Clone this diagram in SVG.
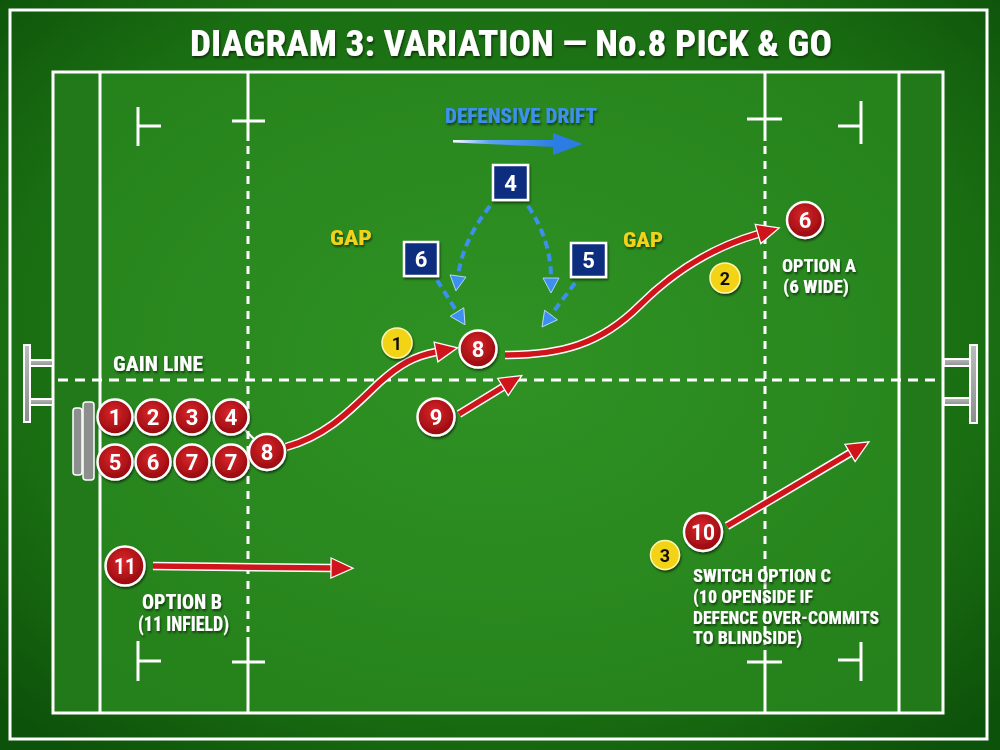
<svg xmlns="http://www.w3.org/2000/svg" width="1000" height="750" viewBox="0 0 1000 750">
<defs>
<radialGradient id="bg" cx="50%" cy="45%" r="70%">
<stop offset="0" stop-color="#21801a"/>
<stop offset="0.7" stop-color="#1a6e12"/>
<stop offset="1" stop-color="#0d520a"/>
</radialGradient>
<radialGradient id="fieldG" cx="50%" cy="45%" r="65%">
<stop offset="0" stop-color="#2f9224"/>
<stop offset="1" stop-color="#25811b"/>
</radialGradient>
<radialGradient id="redG" cx="45%" cy="38%" r="60%">
<stop offset="0" stop-color="#d9262b"/>
<stop offset="1" stop-color="#980a0f"/>
</radialGradient>
<linearGradient id="driftG" x1="0" y1="0" x2="1" y2="0">
<stop offset="0" stop-color="#ffffff"/>
<stop offset="0.35" stop-color="#5aa3f2"/>
<stop offset="1" stop-color="#2b7de4"/>
</linearGradient>
<linearGradient id="postG" x1="0" y1="0" x2="0" y2="1">
<stop offset="0" stop-color="#b9bdbb"/>
<stop offset="1" stop-color="#8a8e8c"/>
</linearGradient>
<filter id="sh" x="-20%" y="-20%" width="140%" height="150%">
<feDropShadow dx="1" dy="2" stdDeviation="1.3" flood-color="#000" flood-opacity="0.55"/>
</filter>
<marker id="redHead" markerUnits="userSpaceOnUse" viewBox="-2 -12 28 24" markerWidth="28" markerHeight="24" refX="0" refY="0" orient="auto">
<path d="M0,-10 L22,0 L0,10 Z" fill="#d0141b" stroke="#ffffff" stroke-width="1.3" stroke-linejoin="miter"/>
</marker>
<marker id="blueHead" markerUnits="userSpaceOnUse" viewBox="-2 -10 20 20" markerWidth="20" markerHeight="20" refX="0" refY="0" orient="auto">
<path d="M0,-8 L15,0 L0,8 Z" fill="#3d8ff0" stroke="#cfe3ff" stroke-width="0.8"/>
</marker>
<style>
.ln{stroke:#ffffff;stroke-width:3;fill:none}
.dash{stroke:#ffffff;stroke-width:3;fill:none;stroke-dasharray:8 7}
.gdash{stroke:#ffffff;stroke-width:3;fill:none;stroke-dasharray:10 7}
.lbl{font-family:"Roboto Condensed","Liberation Sans Narrow","DejaVu Sans Condensed","Roboto","Liberation Sans",sans-serif;font-weight:800;fill:#ffffff}
.num{font-family:"Roboto","Liberation Sans","DejaVu Sans",sans-serif;font-weight:700;fill:#ffffff;font-size:22px;text-anchor:middle}
.ynum{font-family:"Roboto","Liberation Sans","DejaVu Sans",sans-serif;font-weight:700;fill:#111111;font-size:18px;text-anchor:middle}
.red{fill:url(#redG);stroke:#ffffff;stroke-width:2.5}
.yel{fill:#f3d313;stroke:#fff6b0;stroke-width:1.5}
.blue{fill:#0f2d7e;stroke:#ffffff;stroke-width:2.5}
.rUnder{stroke:#ffffff;stroke-width:8.5;fill:none;stroke-linecap:butt}
.rOver{stroke:#d0141b;stroke-width:5.5;fill:none;stroke-linecap:butt}
.bArr{stroke:#3d8ff0;stroke-width:4;fill:none;stroke-dasharray:8 5}
.post{fill:url(#postG);stroke:#ffffff;stroke-width:2}
</style>
</defs>

<!-- background -->
<rect x="0" y="0" width="1000" height="750" fill="url(#bg)"/>
<rect x="10" y="10" width="977" height="729" fill="none" stroke="#ffffff" stroke-width="3"/>

<!-- title -->
<text class="lbl" x="511" y="56" font-size="36" font-weight="900" text-anchor="middle" textLength="642" lengthAdjust="spacingAndGlyphs" filter="url(#sh)">DIAGRAM 3: VARIATION — No.8 PICK &amp; GO</text>

<!-- field -->
<g id="field">
<rect x="53" y="72" width="890" height="641" fill="url(#fieldG)"/>
<rect x="53" y="72" width="47" height="641" fill="#22791a"/>
<rect x="899" y="72" width="44" height="641" fill="#22791a"/>
<rect x="53" y="72" width="890" height="641" class="ln"/>
<line x1="100" y1="72" x2="100" y2="713" class="ln"/>
<line x1="899" y1="72" x2="899" y2="713" class="ln"/>
<line x1="248" y1="72" x2="248" y2="141" class="ln"/>
<line x1="248" y1="146" x2="248" y2="632" class="dash"/>
<line x1="248" y1="637" x2="248" y2="713" class="ln"/>
<line x1="232" y1="121" x2="265" y2="121" class="ln"/>
<line x1="232" y1="662" x2="265" y2="662" class="ln"/>
<line x1="765" y1="72" x2="765" y2="141" class="ln"/>
<line x1="765" y1="146" x2="765" y2="645" class="dash"/>
<line x1="765" y1="650" x2="765" y2="713" class="ln"/>
<line x1="747" y1="119" x2="782" y2="119" class="ln"/>
<line x1="747" y1="662" x2="782" y2="662" class="ln"/>
<line x1="138" y1="107" x2="138" y2="146" class="ln"/>
<line x1="138" y1="126" x2="161" y2="126" class="ln"/>
<line x1="138" y1="641" x2="138" y2="681" class="ln"/>
<line x1="138" y1="661" x2="161" y2="661" class="ln"/>
<line x1="861" y1="101" x2="861" y2="144" class="ln"/>
<line x1="838" y1="126" x2="861" y2="126" class="ln"/>
<line x1="861" y1="642" x2="861" y2="681" class="ln"/>
<line x1="838" y1="660" x2="861" y2="660" class="ln"/>
<line x1="58" y1="380" x2="943" y2="380" class="gdash"/>
</g>

<!-- goal posts -->
<g id="posts-left">
<rect x="30" y="360" width="23" height="6" class="post"/>
<rect x="30" y="399" width="23" height="6" class="post"/>
<rect x="24" y="345" width="6" height="77" class="post"/>
</g>
<g id="posts-right">
<rect x="944" y="359" width="26" height="7" class="post"/>
<rect x="944" y="398" width="26" height="7" class="post"/>
<rect x="970" y="345" width="7" height="78" class="post"/>
</g>

<!-- scrum pads -->
<g id="scrum-machine">
<rect x="73" y="408" width="9" height="67" rx="3" fill="#8c8f8e" stroke="#ffffff" stroke-width="1.5"/>
<rect x="83" y="402" width="11" height="78" rx="3" fill="#8c8f8e" stroke="#ffffff" stroke-width="1.5"/>
</g>

<!-- labels -->
<g id="labels" filter="url(#sh)">
<text class="lbl" x="113" y="371" font-size="21" textLength="90" lengthAdjust="spacingAndGlyphs">GAIN LINE</text>
<text class="lbl" x="445" y="123" font-size="21" style="fill:#3d8ff0" textLength="152" lengthAdjust="spacingAndGlyphs">DEFENSIVE DRIFT</text>
<text class="lbl" x="330" y="245" font-size="21" style="fill:#f2d21a" textLength="42" lengthAdjust="spacingAndGlyphs">GAP</text>
<text class="lbl" x="623" y="247" font-size="21" style="fill:#f2d21a" textLength="40" lengthAdjust="spacingAndGlyphs">GAP</text>
<text class="lbl" x="782" y="272" font-size="19" textLength="74" lengthAdjust="spacingAndGlyphs">OPTION A</text>
<text class="lbl" x="783" y="293" font-size="19" textLength="66" lengthAdjust="spacingAndGlyphs">(6 WIDE)</text>
<text class="lbl" x="142" y="609" font-size="20" textLength="80" lengthAdjust="spacingAndGlyphs">OPTION B</text>
<text class="lbl" x="138" y="631" font-size="20" textLength="91" lengthAdjust="spacingAndGlyphs">(11 INFIELD)</text>
<text class="lbl" x="693" y="582" font-size="18" textLength="138" lengthAdjust="spacingAndGlyphs">SWITCH OPTION C</text>
<text class="lbl" x="693" y="603" font-size="18" textLength="120" lengthAdjust="spacingAndGlyphs">(10 OPENSIDE IF</text>
<text class="lbl" x="693" y="624" font-size="18" textLength="186" lengthAdjust="spacingAndGlyphs">DEFENCE OVER-COMMITS</text>
<text class="lbl" x="693" y="644" font-size="18" textLength="109" lengthAdjust="spacingAndGlyphs">TO BLINDSIDE)</text>
</g>

<!-- connectors -->
<g id="connectors">
<line x1="232" y1="417" x2="267" y2="452" stroke="#ffffff" stroke-width="2"/>
<polygon points="453,140 556,140 556,147 453,142.5" fill="url(#driftG)"/>
<polygon points="553,133 583,144 553,155" fill="#2b7de4"/>
<path class="rUnder" d="M286,447 C330,435 355,405 380,382 C400,364 415,356 436,352"/>
<path class="rOver" d="M286,447 C330,435 355,405 380,382 C400,364 415,356 436,352" marker-end="url(#redHead)"/>
<path class="rUnder" d="M505,355 C560,355 600,345 640,305 C680,265 720,245 758,234"/>
<path class="rOver" d="M505,355 C560,355 600,345 640,305 C680,265 720,245 758,234" marker-end="url(#redHead)"/>
<path class="rUnder" d="M459,414 L503,387"/>
<path class="rOver" d="M459,414 L503,387" marker-end="url(#redHead)"/>
<path class="rUnder" d="M727,526 L850,453"/>
<path class="rOver" d="M727,526 L850,453" marker-end="url(#redHead)"/>
<path class="rUnder" d="M153,566 L331,568"/>
<path class="rOver" d="M153,566 L331,568" marker-end="url(#redHead)"/>
<path class="bArr" d="M490,206 Q463,240 458,276" marker-end="url(#blueHead)"/>
<path class="bArr" d="M528,206 Q551,240 551,278" marker-end="url(#blueHead)"/>
<path class="bArr" d="M437,280 L457,312" marker-end="url(#blueHead)"/>
<path class="bArr" d="M575,283 L551,315" marker-end="url(#blueHead)"/>
</g>

<!-- attacking players -->
<g id="p1" filter="url(#sh)"><circle cx="115" cy="417" r="17.5" class="red"/><text class="num" x="115" y="425">1</text></g>
<g id="p2" filter="url(#sh)"><circle cx="153" cy="417" r="17.5" class="red"/><text class="num" x="153" y="425">2</text></g>
<g id="p3" filter="url(#sh)"><circle cx="192" cy="417" r="17.5" class="red"/><text class="num" x="192" y="425">3</text></g>
<g id="p4" filter="url(#sh)"><circle cx="231" cy="417" r="17.5" class="red"/><text class="num" x="231" y="425">4</text></g>
<g id="p5" filter="url(#sh)"><circle cx="115" cy="462" r="17.5" class="red"/><text class="num" x="115" y="470">5</text></g>
<g id="p6" filter="url(#sh)"><circle cx="153" cy="462" r="17.5" class="red"/><text class="num" x="153" y="470">6</text></g>
<g id="p7a" filter="url(#sh)"><circle cx="192" cy="462" r="17.5" class="red"/><text class="num" x="192" y="470">7</text></g>
<g id="p7b" filter="url(#sh)"><circle cx="231" cy="462" r="17.5" class="red"/><text class="num" x="231" y="470">7</text></g>
<g id="p8-start" filter="url(#sh)"><circle cx="267" cy="452" r="18" class="red"/><text class="num" x="267" y="460">8</text></g>
<g id="p8-gain" filter="url(#sh)"><circle cx="478" cy="349" r="18.5" class="red"/><text class="num" x="478" y="357">8</text></g>
<g id="p9" filter="url(#sh)"><circle cx="436" cy="417" r="18.5" class="red"/><text class="num" x="436" y="425">9</text></g>
<g id="p6-wide" filter="url(#sh)"><circle cx="805" cy="220" r="18" class="red"/><text class="num" x="805" y="228">6</text></g>
<g id="p10" filter="url(#sh)"><circle cx="703" cy="532" r="19" class="red"/><text class="num" x="703" y="540" textLength="24" lengthAdjust="spacingAndGlyphs">10</text></g>
<g id="p11" filter="url(#sh)"><circle cx="125" cy="566" r="19.5" class="red"/><text class="num" x="125" y="574" textLength="22" lengthAdjust="spacingAndGlyphs">11</text></g>

<!-- defenders -->
<g id="d4" filter="url(#sh)"><rect x="493" y="165" width="35" height="35" class="blue"/><text class="num" x="510.5" y="190.5">4</text></g>
<g id="d6" filter="url(#sh)"><rect x="404" y="242" width="34" height="34" class="blue"/><text class="num" x="421" y="267">6</text></g>
<g id="d5" filter="url(#sh)"><rect x="571" y="243" width="35" height="34" class="blue"/><text class="num" x="588.5" y="268">5</text></g>

<!-- step markers -->
<g id="step1" filter="url(#sh)"><circle cx="397" cy="343" r="15" class="yel"/><text class="ynum" x="397" y="349.5">1</text></g>
<g id="step2" filter="url(#sh)"><circle cx="725" cy="278" r="15" class="yel"/><text class="ynum" x="725" y="284.5">2</text></g>
<g id="step3" filter="url(#sh)"><circle cx="665" cy="555" r="14.5" class="yel"/><text class="ynum" x="665" y="561.5">3</text></g>
</svg>
